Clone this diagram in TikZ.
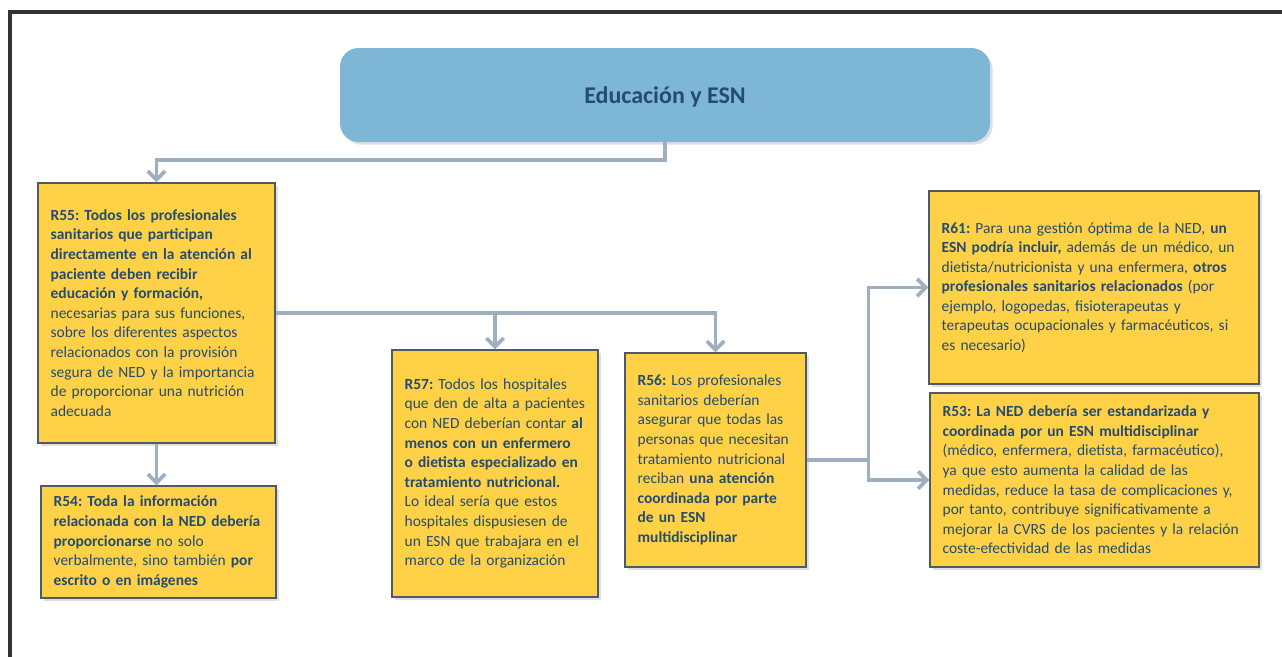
\documentclass[tikz,border=0pt]{standalone}
\usepackage{fontspec}
\setmainfont{Carlito}
\usetikzlibrary{arrows.meta,shadows}

\definecolor{boxyellow}{HTML}{FFD147}
\definecolor{boxline}{HTML}{4E5A66}
\definecolor{textblue}{HTML}{244C73}
\definecolor{headblue}{HTML}{7EB6D5}
\definecolor{linegray}{HTML}{9EAFC1}
\definecolor{framegray}{HTML}{333333}

\frenchspacing
\hyphenpenalty=10000
\exhyphenpenalty=10000

\begin{document}
\begin{tikzpicture}[x=0.75pt,y=-0.75pt,
  rbox/.style={draw=boxline, line width=0.8pt, fill=boxyellow, text=textblue, align=left,
    inner xsep=9.5pt, inner ysep=0pt,
    font=\fontsize{11.6}{14.7}\selectfont,
    drop shadow={opacity=0.25,shadow xshift=2pt,shadow yshift=-2pt}},
  head/.style={fill=headblue, rounded corners=14pt, text=textblue,
    font=\fontsize{18}{21}\selectfont\bfseries,
    drop shadow={opacity=0.25,shadow xshift=2pt,shadow yshift=-2pt}},
  conn/.style={draw=linegray, line width=2.8pt},
  arrowed/.style={-{Straight Barb[length=6.5pt,width=13pt]}}]

\useasboundingbox (0,0) rectangle (1282,657);
\draw[framegray, line width=2.5pt] (10,657) -- (10,12) -- (1282,12);

\node[head, minimum width=487.5pt, minimum height=70.5pt, text depth=-5pt] (title) at (665,95) {Educación y ESN};

\node[rbox, text width=158.75pt, minimum height=195pt] (r55) at (156.5,313) {%
\textbf{R55: Todos los profesionales}\\
\textbf{sanitarios que participan}\\
\textbf{directamente en la atención al}\\
\textbf{paciente deben recibir}\\
\textbf{educación y formación,}\\
necesarias para sus funciones,\\
sobre los diferentes aspectos\\
relacionados con la provisión\\
segura de NED y la importancia\\
de proporcionar una nutrición\\
adecuada};

\node[rbox, text width=157.25pt, minimum height=84pt] (r54) at (158.5,542) {%
\textbf{R54: Toda la información}\\
\textbf{relacionada con la NED debería}\\
\textbf{proporcionarse} no solo\\
verbalmente, sino también \textbf{por}\\
\textbf{escrito o en imágenes}};

\node[rbox, text width=135.5pt, minimum height=185.25pt] (r57) at (495,473.5) {%
\textbf{R57:} Todos los hospitales\\
que den de alta a pacientes\\
con NED deberían contar \textbf{al}\\
\textbf{menos con un enfermero}\\
\textbf{o dietista especializado en}\\
\textbf{tratamiento nutricional.}\\
Lo ideal sería que estos\\
hospitales dispusiesen de\\
un ESN que trabajara en el\\
marco de la organización};

\node[rbox, text width=116.75pt, minimum height=160.5pt] (r56) at (715.5,460) {%
\textbf{R56:} Los profesionales\\
sanitarios deberían\\
asegurar que todas las\\
personas que necesitan\\
tratamiento nutricional\\
reciban \textbf{una atención}\\
\textbf{coordinada por parte}\\
\textbf{de un ESN}\\
\textbf{multidisciplinar}};

\node[rbox, text width=228.5pt, minimum height=144.75pt] (r61) at (1094,287.5) {%
\textbf{R61:} Para una gestión óptima de la NED, \textbf{un}\\
\textbf{ESN podría incluir,} además de un médico, un\\
dietista/nutricionista y una enfermera, \textbf{otros}\\
\textbf{profesionales sanitarios relacionados} (por\\
ejemplo, logopedas, fisioterapeutas y\\
terapeutas ocupacionales y farmacéuticos, si\\
es necesario)};

\node[rbox, text width=227.75pt, minimum height=130.5pt] (r53) at (1094.5,480) {%
\textbf{R53: La NED debería ser estandarizada y}\\
\textbf{coordinada por un ESN multidisciplinar}\\
(médico, enfermera, dietista, farmacéutico),\\
ya que esto aumenta la calidad de las\\
medidas, reduce la tasa de complicaciones y,\\
por tanto, contribuye significativamente a\\
mejorar la CVRS de los pacientes y la relación\\
coste-efectividad de las medidas};

% connectors
\draw[conn, arrowed] (title.south) -- ++(0,18) -| (r55.north);
\draw[conn, arrowed] (r55.south) -- (r55.south |- r54.north);
\draw[conn, arrowed] (r55.east) -| (r56.north);
\draw[conn, arrowed] (r55.east -| r57.north) -- (r57.north);

\draw[conn] (r56.east) -- ++(62,0) coordinate (split);
\draw[conn, arrowed] (split) |- (r61.west);
\draw[conn, arrowed] (split) |- (r53.west);

\end{tikzpicture}
\end{document}
